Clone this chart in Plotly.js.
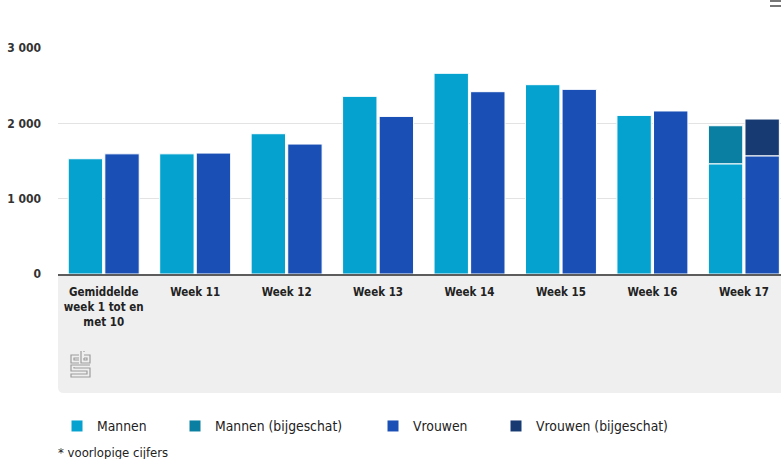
<!DOCTYPE html>
<html>
<head>
<meta charset="utf-8">
<script src="https://cdn.plot.ly/plotly-3.0.1.min.js"></script>
<style>
html,body{margin:0;padding:0;background:#fff;}
#chart{width:781px;height:459px;}
</style>
</head>
<body>
<div id="chart"></div>
<script>
// ---- data ----
const categories = ['Gemiddelde<br>week 1 tot en<br>met 10', 'Week 11', 'Week 12', 'Week 13', 'Week 14', 'Week 15', 'Week 16', 'Week 17'];
const mannen = [1530, 1595, 1862, 2358, 2664, 2513, 2105, 1463];
const mannenBijgeschat = [null, null, null, null, null, null, null, 505];
const vrouwen = [1595, 1605, 1725, 2092, 2420, 2451, 2164, 1569];
const vrouwenBijgeschat = [null, null, null, null, null, null, null, 488];
const seriesNames = ['Mannen', 'Mannen (bijgeschat)', 'Vrouwen', 'Vrouwen (bijgeschat)'];
const seriesColors = ['#05a2cf', '#0a7fa2', '#1a50b6', '#173a72'];
const yTicks = [0, 1000, 2000, 3000];
const footnote = '* voorlopige cijfers';

// ---- layout helpers (pixel -> paper) ----
const L = 58, R = 781, T = 48, B = 274;
const X = px => (px - L) / (R - L);
const Y = py => (B - py) / (B - T);
const FONT = 'DejaVu Sans Condensed, Liberation Sans Narrow, sans-serif';

const line = {color: '#ffffff', width: 1};
const traces = [
  {type: 'bar', name: seriesNames[0], x: categories, y: mannen, offsetgroup: 'm', showlegend: true,
   marker: {color: seriesColors[0], line: line}, legend: 'legend'},
  {type: 'bar', name: seriesNames[1], x: categories, y: mannenBijgeschat, base: mannen, offsetgroup: 'm', showlegend: true,
   marker: {color: seriesColors[1], line: line}, legend: 'legend2'},
  {type: 'bar', name: seriesNames[2], x: categories, y: vrouwen, offsetgroup: 'v', showlegend: true,
   marker: {color: seriesColors[2], line: line}, legend: 'legend3'},
  {type: 'bar', name: seriesNames[3], x: categories, y: vrouwenBijgeschat, base: vrouwen, offsetgroup: 'v', showlegend: true,
   marker: {color: seriesColors[3], line: line}, legend: 'legend4'}
];

function legendAt(textPx) {
  return {visible: true, orientation: 'h', x: X(textPx - 40), xanchor: 'left', y: Y(426), yanchor: 'middle',
    font: {family: FONT, size: 13.8, color: '#222'}, bgcolor: 'rgba(0,0,0,0)', borderwidth: 0};
}

const shapes = [
  // grey band behind the category labels
  {type: 'path', xref: 'paper', yref: 'paper', layer: 'below', line: {width: 0}, fillcolor: '#efefef',
   path: `M ${X(58)},${Y(275)} L ${X(800)},${Y(275)} L ${X(800)},${Y(393)} L ${X(64)},${Y(393)} Q ${X(58)},${Y(393)} ${X(58)},${Y(387)} Z`},
  // menu icon (top right, cropped)
  {type: 'line', xref: 'paper', yref: 'paper', x0: X(770), x1: X(790), y0: Y(1), y1: Y(1), line: {color: '#777', width: 2}},
  {type: 'line', xref: 'paper', yref: 'paper', x0: X(770), x1: X(790), y0: Y(6), y1: Y(6), line: {color: '#777', width: 2}}
];
// CBS logo (outline maze style)
const logoPaths = [
  [[79,355],[71,355],[71,363],[79,363]],
  [[79,358],[74,358],[74,360],[79,360]],
  [[81,351],[81,363],[90,363],[90,355],[84,355]],
  [[84,351],[84,352]],
  [[84,358],[87,358],[87,360],[84,360],[84,358]],
  [[90,365],[71,365],[71,371],[87,371],[87,374],[71,374],[71,377],[90,377],[90,368],[74,368],[74,367]]
];
logoPaths.forEach(pts => {
  shapes.push({type: 'path', xref: 'paper', yref: 'paper', line: {color: '#9c9c9c', width: 1.2},
    path: pts.map((p, i) => (i ? 'L ' : 'M ') + X(p[0]) + ',' + Y(p[1])).join(' ')});
});

const layout = {
  width: 781, height: 459,
  margin: {l: L, r: 781 - R, t: T, b: 459 - B, pad: 0},
  paper_bgcolor: '#ffffff', plot_bgcolor: '#ffffff',
  barmode: 'group', bargap: 0.2, bargroupgap: 0.06,
  separators: ', ',
  showlegend: true,
  font: {family: FONT, color: '#222'},
  xaxis: {type: 'category', range: [-0.5, 7.406], showgrid: false, zeroline: false,
    showline: true, linecolor: '#5c5c5c', linewidth: 2, ticks: '', ticklabelstandoff: 6,
    tickfont: {family: FONT, size: 11.5, color: '#222', weight: 'bold'}, fixedrange: true},
  yaxis: {range: [0, 3000], tickvals: yTicks, separatethousands: true, showgrid: true,
    gridcolor: '#e3e3e3', gridwidth: 1, zeroline: false, showline: false, ticks: '',
    ticklabelstandoff: 16, tickfont: {family: FONT, size: 12, color: '#333', weight: 'bold'}, fixedrange: true},
  legend: legendAt(97), legend2: legendAt(215), legend3: legendAt(413), legend4: legendAt(536),
  shapes: shapes,
  annotations: [
    {text: footnote, xref: 'paper', yref: 'paper', x: X(56), y: Y(452), xanchor: 'left', yanchor: 'middle',
     showarrow: false, font: {family: FONT, size: 13, color: '#222'}}
  ]
};

Plotly.newPlot('chart', traces, layout, {displayModeBar: false, staticPlot: true});
</script>
</body>
</html>
